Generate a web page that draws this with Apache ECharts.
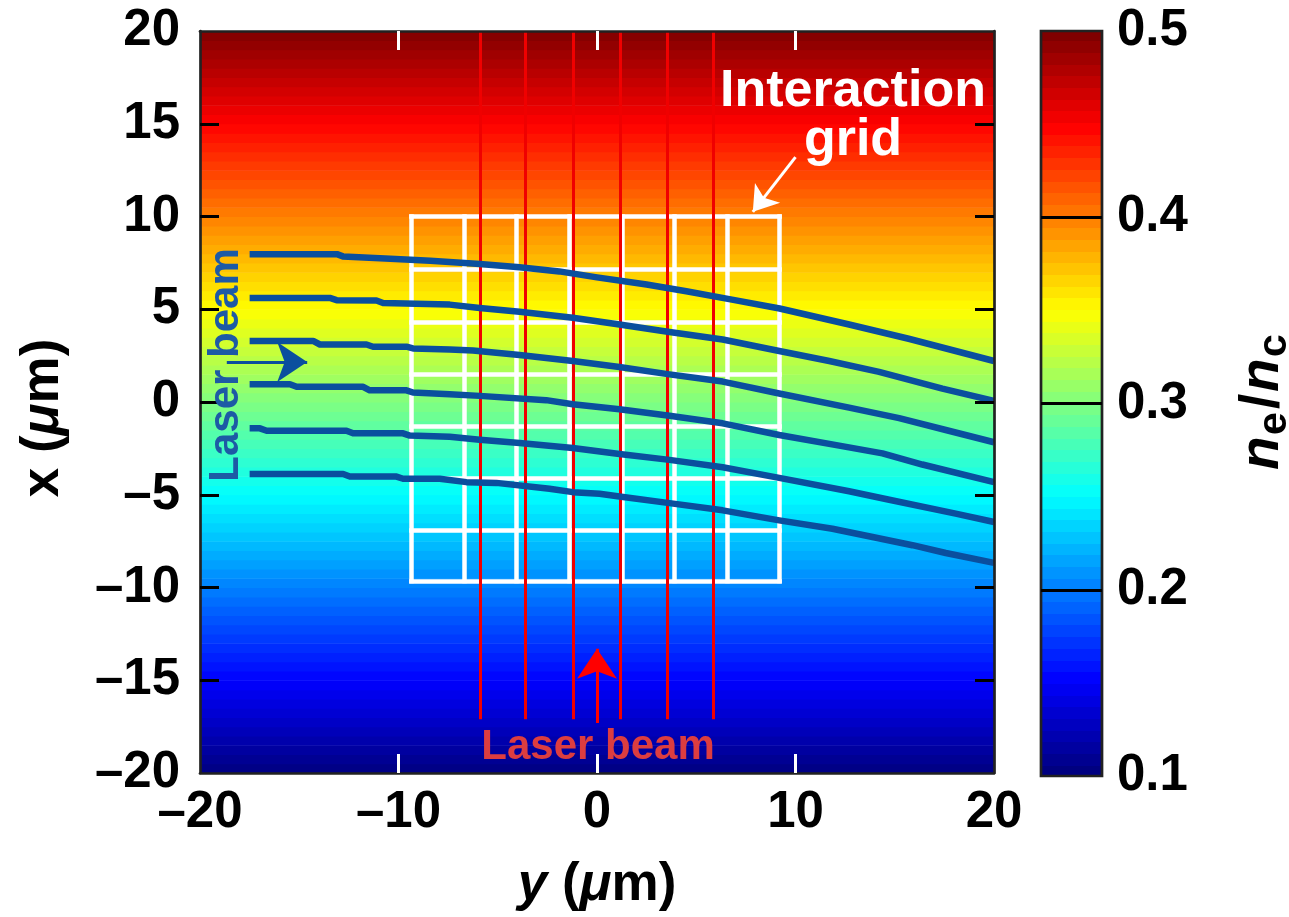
<!DOCTYPE html>
<html><head><meta charset="utf-8">
<script src="https://cdn.jsdelivr.net/npm/echarts@6/dist/echarts.min.js"></script>
<style>html,body{margin:0;padding:0;background:#fff}#c{width:1289px;height:917px}</style>
</head><body><div id="c"></div><script>
// ---- density profile n_e/n_c versus x (µm), 0.5 µm cells ----
const profileX = [
-19.75,-19.25,-18.75,-18.25,-17.75,-17.25,-16.75,-16.25,-15.75,-15.25,
-14.75,-14.25,-13.75,-13.25,-12.75,-12.25,-11.75,-11.25,-10.75,-10.25,
-9.75,-9.25,-8.75,-8.25,-7.75,-7.25,-6.75,-6.25,-5.75,-5.25,
-4.75,-4.25,-3.75,-3.25,-2.75,-2.25,-1.75,-1.25,-0.75,-0.25,
0.25,0.75,1.25,1.75,2.25,2.75,3.25,3.75,4.25,4.75,
5.25,5.75,6.25,6.75,7.25,7.75,8.25,8.75,9.25,9.75,
10.25,10.75,11.25,11.75,12.25,12.75,13.25,13.75,14.25,14.75,
15.25,15.75,16.25,16.75,17.25,17.75,18.25,18.75,19.25,19.75];
const density = [
0.1025,0.1075,0.1125,0.1175,0.1225,0.1275,0.1325,0.1375,0.1425,0.1475,
0.1525,0.1575,0.1625,0.1675,0.1725,0.1775,0.1825,0.1875,0.1925,0.1975,
0.2025,0.2075,0.2125,0.2175,0.2225,0.2275,0.2325,0.2375,0.2425,0.2475,
0.2525,0.2575,0.2625,0.2675,0.2725,0.2775,0.2825,0.2875,0.2925,0.2975,
0.3025,0.3075,0.3125,0.3175,0.3225,0.3275,0.3325,0.3375,0.3425,0.3475,
0.3525,0.3575,0.3625,0.3675,0.3725,0.3775,0.3825,0.3875,0.3925,0.3975,
0.4025,0.4075,0.4125,0.4175,0.4225,0.4275,0.4325,0.4375,0.4425,0.4475,
0.4525,0.4575,0.4625,0.4675,0.4725,0.4775,0.4825,0.4875,0.4925,0.4975];

// ---- laser rays entering from the left: [y, x] in µm ----
const ray1 = [[-17.5,7.97],[-13.1,7.97],[-12.8,7.85],[-10.4,7.72],[-8.4,7.61],[-5.9,7.44],[-3.9,7.26],[-1.9,7.04],[0,6.72],[2.5,6.33],[4.5,5.97],[6.8,5.52],[9.2,5.04],[12.7,4.18],[15.7,3.41],[20,2.21]];
const ray2 = [[-17.5,5.61],[-13.46,5.61],[-13.12,5.49],[-11.11,5.47],[-10.78,5.34],[-9.1,5.29],[-7.42,5.25],[-5.91,5.07],[-3.9,4.86],[-1.22,4.54],[1.13,4.18],[3.65,3.77],[6.33,3.37],[9.18,2.75],[11.7,2.21],[14.21,1.62],[17.4,0.72],[20,0.06]];
const ray3 = [[-17.5,3.29],[-14.3,3.29],[-13.96,3.1],[-11.61,3.1],[-11.28,2.98],[-9.6,2.98],[-9.27,2.89],[-7.42,2.83],[-6.25,2.78],[-3.9,2.53],[-1.22,2.21],[1.13,1.89],[3.65,1.49],[6.33,1.1],[9.18,0.46],[12.7,-0.3],[15.22,-0.87],[17.57,-1.51],[20,-2.17]];
const ray4 = [[-17.5,0.96],[-15.47,0.96],[-15.13,0.82],[-11.78,0.82],[-11.45,0.63],[-9.6,0.63],[-9.27,0.51],[-7.42,0.42],[-5.91,0.33],[-2.56,0.1],[-1.22,-0.12],[1.13,-0.39],[3.65,-0.74],[6.33,-1.15],[9.18,-1.78],[12.2,-2.35],[14.38,-2.77],[16.39,-3.37],[20,-4.32]];
const ray5 = [[-17.5,-1.42],[-16.98,-1.42],[-16.64,-1.55],[-12.62,-1.55],[-12.29,-1.69],[-9.77,-1.69],[-9.43,-1.81],[-7.42,-1.87],[-5.91,-2.03],[-3.9,-2.21],[-1.22,-2.48],[1.13,-2.8],[3.65,-3.12],[6.33,-3.52],[9.18,-4.09],[12.7,-4.81],[14.72,-5.27],[18.07,-6.02],[20,-6.47]];
const ray6 = [[-17.5,-3.88],[-12.79,-3.88],[-12.45,-4.02],[-10.1,-4.02],[-9.77,-4.14],[-7.92,-4.14],[-6.58,-4.32],[-5.07,-4.36],[-2.39,-4.68],[-1.22,-4.86],[0.13,-4.95],[1.13,-5.09],[3.65,-5.45],[6.33,-5.84],[9.18,-6.38],[11.86,-6.83],[13.88,-7.28],[15.89,-7.72],[17.57,-8.14],[20,-8.67]];
const rays = [ray1, ray2, ray3, ray4, ray5, ray6];

// ---- probe beams entering from the bottom ----
const probeY = [-5.9, -3.6, -1.2, 1.15, 3.55, 5.85];
const probeTopX = 20;
const probeBottomX = -17.1;

// ---- interaction grid lines ----
const gridLinesY = [-9.35, -6.7, -4.05, -1.4, 1.25, 3.9, 6.55, 9.2];
const gridLinesX = [10, 7.15, 4.3, 1.5, -1.3, -4.1, -6.9, -9.65];

// ---- arrows [[y,x] start, [y,x] tip] ----
const blueArrow = [[-18.65, 2.16], [-14.6, 2.16]];
const redArrow = [[0, -17.3], [0, -13.3]];
const whiteArrow = [[10.0, 13.2], [7.85, 10.25]];

// ---- colour scale ----
const cbarRange = [0.1, 0.5];
const cbarTicks = [0.2, 0.3, 0.4];

const F = '"Liberation Sans", Arial, Helvetica, sans-serif';
const jetStops = ['#000080','#0000ff','#0080ff','#00ffff','#80ff80','#ffff00','#ff8000','#ff0000','#800000'];
function jetColor(t){
  const c = v => Math.round(255*Math.max(0, Math.min(1, v)));
  return 'rgb(' + c(1.5-Math.abs(4*t-3)) + ',' + c(1.5-Math.abs(4*t-2)) + ',' + c(1.5-Math.abs(4*t-1)) + ')';
}
const gradStops = [];
for (let k = 0; k < 64; k++) {
  const col = jetColor(k/63);
  gradStops.push({offset: k/64, color: col}, {offset: (k+1)/64, color: col});
}
const dash = v => (v < 0 ? '\u2013' + Math.abs(v) : String(v));

const chart = echarts.init(document.getElementById('c'), null, {renderer: 'canvas'});

const labelStyle = {fontSize: 51, fontWeight: 'bold', fontFamily: F, color: '#000'};
const frame = {show: true, onZero: false, lineStyle: {color: '#222', width: 2.7}};

const probeLines = probeY.map(y => ({coords: [[y, probeTopX], [y, probeBottomX]]}));
const gridSegs = [];
gridLinesY.forEach(y => gridSegs.push({coords: [[y, gridLinesX[0]], [y, gridLinesX[gridLinesX.length-1]]]}));
gridLinesX.forEach(x => gridSegs.push({coords: [[gridLinesY[0], x], [gridLinesY[gridLinesY.length-1], x]]}));

const option = {
  animation: false,
  backgroundColor: '#fff',
  grid: [
    {left: 200, right: 295, top: 31, bottom: 141},
    {left: 1041, width: 61, top: 31, bottom: 141}
  ],
  xAxis: [
    {gridIndex: 0, type: 'value', position: 'bottom', min: -20, max: 20, interval: 10, z: 10,
     axisLine: frame,
     axisTick: {show: true, inside: true, length: 19, lineStyle: {color: '#fff', width: 3}, customValues: [-10, 0, 10]},
     axisLabel: Object.assign({margin: 14, formatter: dash}, labelStyle),
     splitLine: {show: false},
     name: '{it|y} ({it|\u03bc}m)', nameLocation: 'middle', nameGap: 86,
     nameTextStyle: {fontSize: 53, fontWeight: 'bold', fontFamily: F, color: '#000',
       rich: {it: {fontStyle: 'italic', fontSize: 53, fontWeight: 'bold', fontFamily: F, color: '#000'}}}},
    {gridIndex: 0, type: 'value', position: 'top', min: -20, max: 20, interval: 10, z: 10,
     axisLine: frame,
     axisTick: {show: true, inside: true, length: 19, lineStyle: {color: '#fff', width: 3}, customValues: [-10, 0, 10]},
     axisLabel: {show: false}, splitLine: {show: false}},
    {gridIndex: 1, type: 'value', min: 0, max: 1, show: false}
  ],
  yAxis: [
    {gridIndex: 0, type: 'value', position: 'left', min: -20, max: 20, interval: 5, z: 10,
     axisLine: frame,
     axisTick: {show: true, inside: true, length: 19, lineStyle: {color: '#000', width: 3}, customValues: [-15,-10,-5,0,5,10,15]},
     axisLabel: Object.assign({margin: 20, formatter: dash}, labelStyle),
     splitLine: {show: false},
     name: 'x ({it|\u03bc}m)', nameLocation: 'middle', nameRotate: 90, nameGap: 130,
     nameTextStyle: {fontSize: 53, fontWeight: 'bold', fontFamily: F, color: '#000', padding: [0, 32, 0, 0],
       rich: {it: {fontStyle: 'italic', fontSize: 53, fontWeight: 'bold', fontFamily: F, color: '#000'}}}},
    {gridIndex: 0, type: 'value', position: 'right', min: -20, max: 20, interval: 5, z: 10,
     axisLine: frame,
     axisTick: {show: true, inside: true, length: 19, lineStyle: {color: '#000', width: 3}, customValues: [-15,-10,-5,0,5,10,15]},
     axisLabel: {show: false}, splitLine: {show: false}},
    {gridIndex: 1, type: 'value', position: 'right', min: cbarRange[0], max: cbarRange[1], interval: 0.1, z: 10,
     axisLine: {show: false, onZero: false},
     axisTick: {show: true, inside: true, length: 61, lineStyle: {color: '#000', width: 3}, customValues: cbarTicks},
     axisLabel: Object.assign({margin: 15, formatter: v => v.toFixed(1)}, labelStyle),
     splitLine: {show: false}}
  ],
  visualMap: {show: false, type: 'continuous', seriesIndex: 0, dimension: 1,
    min: cbarRange[0], max: cbarRange[1], inRange: {color: jetStops}},
  series: [
    {type: 'custom', xAxisIndex: 0, yAxisIndex: 0, z: 1, clip: true,
     data: profileX.map((x, i) => [x, density[i]]),
     renderItem: (params, api) => {
       const xc = api.value(0);
       const p0 = api.coord([-20, xc + 0.25]);
       const p1 = api.coord([20, xc - 0.25]);
       return {type: 'rect', shape: {x: p0[0], y: p0[1], width: p1[0] - p0[0], height: p1[1] - p0[1] + 0.6},
               style: {fill: api.visual('color')}};
     }},
    {type: 'lines', coordinateSystem: 'cartesian2d', xAxisIndex: 0, yAxisIndex: 0, z: 3,
     data: gridSegs, symbol: ['none', 'none'],
     lineStyle: {color: '#fff', width: 4.5, opacity: 1, cap: 'square'}},
    {type: 'lines', coordinateSystem: 'cartesian2d', xAxisIndex: 0, yAxisIndex: 0, z: 4,
     data: probeLines, symbol: ['none', 'none'],
     lineStyle: {color: '#f00000', width: 3, opacity: 1}},
    ...rays.map(r => ({type: 'line', xAxisIndex: 0, yAxisIndex: 0, z: 5, data: r,
      showSymbol: false, symbol: 'none', lineStyle: {color: '#0a4f9e', width: 6.5, join: 'round'}, clip: false})),
    {type: 'lines', coordinateSystem: 'cartesian2d', xAxisIndex: 0, yAxisIndex: 0, z: 6,
     data: [{coords: blueArrow}], symbol: ['none', 'arrow'], symbolSize: [24, 30],
     lineStyle: {color: '#0a4f9e', width: 3, opacity: 1}},
    {type: 'lines', coordinateSystem: 'cartesian2d', xAxisIndex: 0, yAxisIndex: 0, z: 6,
     data: [{coords: redArrow}], symbol: ['none', 'arrow'], symbolSize: [25, 30],
     lineStyle: {color: '#ff0000', width: 3, opacity: 1}},
    {type: 'lines', coordinateSystem: 'cartesian2d', xAxisIndex: 0, yAxisIndex: 0, z: 6,
     data: [{coords: whiteArrow}], symbol: ['none', 'arrow'], symbolSize: [20, 24],
     lineStyle: {color: '#ffffff', width: 3, opacity: 1}},
    {type: 'custom', xAxisIndex: 2, yAxisIndex: 2, z: 1,
     data: [[0, cbarRange[0], cbarRange[1]]],
     renderItem: (params, api) => {
       const p0 = api.coord([0, api.value(2)]);
       const p1 = api.coord([1, api.value(1)]);
       return {type: 'rect', shape: {x: p0[0], y: p0[1], width: p1[0] - p0[0], height: p1[1] - p0[1]},
               style: {fill: new echarts.graphic.LinearGradient(0, 1, 0, 0, gradStops), stroke: '#222', lineWidth: 2.7}};
     }}
  ],
  graphic: [
    {type: 'text', x: 226, y: 365, rotation: Math.PI/2, z: 20,
     style: {text: 'Laser beam', font: 'bold 42px ' + F, fill: '#1d5aa5', align: 'center', verticalAlign: 'middle'}},
    {type: 'text', x: 598, y: 747, z: 20,
     style: {text: 'Laser beam', font: 'bold 42px ' + F, fill: '#dc3d40', align: 'center', verticalAlign: 'middle'}},
    {type: 'text', x: 853, y: 92, z: 20,
     style: {text: 'Interaction', font: 'bold 52px ' + F, fill: '#fff', align: 'center', verticalAlign: 'middle'}},
    {type: 'text', x: 853, y: 141, z: 20,
     style: {text: 'grid', font: 'bold 52px ' + F, fill: '#fff', align: 'center', verticalAlign: 'middle'}},
    {type: 'group', x: 1263, y: 398, rotation: Math.PI/2, z: 20, children: [
      {type: 'text', x: -72, y: 0, style: {text: 'n', font: 'italic bold 55px ' + F, fill: '#000', align: 'left', verticalAlign: 'middle'}},
      {type: 'text', x: -37, y: 12, style: {text: 'e', font: 'bold 41px ' + F, fill: '#000', align: 'left', verticalAlign: 'middle'}},
      {type: 'text', x: -11, y: 0, style: {text: '/', font: 'bold 55px ' + F, fill: '#000', align: 'left', verticalAlign: 'middle'}},
      {type: 'text', x: 6, y: 0, style: {text: 'n', font: 'italic bold 55px ' + F, fill: '#000', align: 'left', verticalAlign: 'middle'}},
      {type: 'text', x: 41, y: 12, style: {text: 'c', font: 'bold 41px ' + F, fill: '#000', align: 'left', verticalAlign: 'middle'}}
    ]}
  ]
};
chart.setOption(option);
</script></body></html>
